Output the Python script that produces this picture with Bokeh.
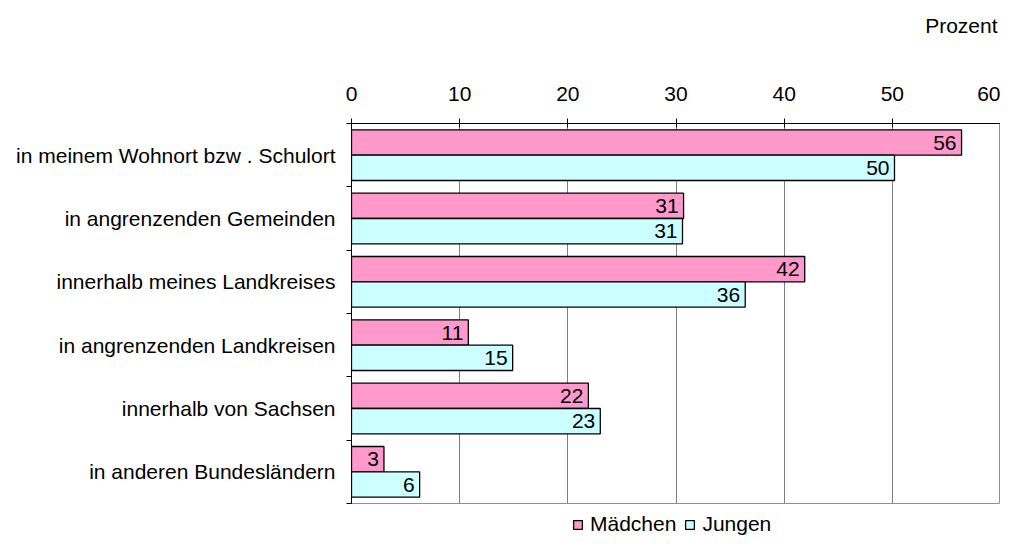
from bokeh.plotting import figure
from bokeh.layouts import column
from bokeh.models import (ColumnDataSource, FixedTicker, Range1d, Legend, LegendItem,
                          LabelSet)
from bokeh.core.properties import value
from bokeh.transform import dodge
from bokeh.embed import file_html
from bokeh.resources import INLINE

categories = [
    "in meinem Wohnort bzw . Schulort",
    "in angrenzenden Gemeinden",
    "innerhalb meines Landkreises",
    "in angrenzenden Landkreisen",
    "innerhalb von Sachsen",
    "in anderen Bundesländern",
]
maedchen = [56.4, 30.7, 41.9, 10.8, 21.9, 3.0]
jungen = [50.2, 30.6, 36.4, 14.9, 23.0, 6.3]
series_names = ["Mädchen", "Jungen"]
x_ticks = [0, 10, 20, 30, 40, 50, 60]
unit_label = "Prozent"

n = len(categories)
# category i (0 = top) centred at n - i - 0.5
centres = [n - i - 0.5 for i in range(n)]

FONT = "Liberation Sans"
FS = "21px"
pink = "#FF99CC"
cyan = "#CCFFFF"

W = 1000
TOP_H = 50          # strip holding the unit label
LEG_H = 28          # strip holding the legend
MAIN_H = 537 - TOP_H - LEG_H
FL, FR, FT, FB = 351, 1000, 123, 503   # frame edges in page pixels


def strip(h):
    f = figure(width=W, height=h, output_backend="svg", toolbar_location=None,
               x_range=Range1d(0, 1), y_range=Range1d(0, 1),
               x_axis_location=None, y_axis_location=None,
               min_border_left=FL, min_border_right=W - FR,
               min_border_top=0, min_border_bottom=0, title=None)
    f.outline_line_color = None
    f.grid.visible = False
    f.border_fill_color = "white"
    f.background_fill_color = "white"
    return f


# ---- top strip: unit label (x relative to the aligned frame's left edge) ----
top = strip(TOP_H)
top.add_layout(LabelSet(x="x", y="y", text="t", x_units="screen", y_units="screen",
                        source=ColumnDataSource(dict(x=[997 - FL], y=[TOP_H - 25],
                                                     t=[unit_label])),
                        text_align="right", text_baseline="middle",
                        text_font=value(FONT), text_font_size=value(FS), text_color="black"))

# ---- main chart ----
src = ColumnDataSource(dict(
    y=centres,
    m=maedchen,
    j=jungen,
    ml=[str(int(round(v))) for v in maedchen],
    jl=[str(int(round(v))) for v in jungen],
))

p = figure(width=W, height=MAIN_H, output_backend="svg", toolbar_location=None,
           x_range=Range1d(0, 60), y_range=Range1d(0, n), title=None,
           x_axis_location="above", min_border_left=FL, min_border_right=W - FR,
           min_border_top=FT - TOP_H, min_border_bottom=TOP_H + MAIN_H - FB)
p.background_fill_color = "white"
p.border_fill_color = "white"
p.outline_line_color = "#909090"

p.xgrid.ticker = FixedTicker(ticks=x_ticks)
p.xgrid.grid_line_color = "#808080"
p.xgrid.grid_line_width = 1
p.ygrid.grid_line_color = None

xa = p.xaxis[0]
xa.ticker = FixedTicker(ticks=x_ticks)
xa.axis_line_color = "black"
xa.major_tick_line_color = "black"
xa.major_tick_out = 5
xa.major_tick_in = 4
xa.minor_tick_line_color = None
xa.major_label_standoff = 18
xa.major_label_text_font = FONT
xa.major_label_text_font_size = FS
xa.major_label_text_color = "black"

ya = p.yaxis[0]
ya.ticker = FixedTicker(ticks=centres, minor_ticks=list(range(n + 1)))
ya.major_label_overrides = {c: categories[i] for i, c in enumerate(centres)}
ya.major_tick_line_color = None
ya.major_tick_out = 5
ya.major_tick_in = 0
ya.minor_tick_line_color = "black"
ya.minor_tick_out = 5
ya.minor_tick_in = 0
ya.axis_line_color = "black"
ya.major_label_standoff = 11
ya.major_label_text_font = FONT
ya.major_label_text_font_size = FS
ya.major_label_text_color = "black"

p.hbar(y=dodge("y", 0.2, range=p.y_range), right="m", left=0, height=0.4, source=src,
       fill_color=pink, line_color="black", line_width=1.3)
p.hbar(y=dodge("y", -0.2, range=p.y_range), right="j", left=0, height=0.4, source=src,
       fill_color=cyan, line_color="black", line_width=1.3)

for col, lab, off in (("m", "ml", 0.2), ("j", "jl", -0.2)):
    p.add_layout(LabelSet(x=col, y=dodge("y", off, range=p.y_range), text=lab, source=src,
                          x_offset=-5, text_align="right", text_baseline="middle",
                          text_font=value(FONT), text_font_size=value(FS),
                          text_color="black"))

# ---- bottom strip: legend (proxy renderers lie outside the strip's range) ----
leg = strip(LEG_H)
proxy = ColumnDataSource(dict(y=[-10], r=[0]))
l1 = leg.hbar(y="y", right="r", left=0, height=0.4, source=proxy,
              fill_color=pink, line_color="black", line_width=1.3)
l2 = leg.hbar(y="y", right="r", left=0, height=0.4, source=proxy,
              fill_color=cyan, line_color="black", line_width=1.3)
legend = Legend(items=[LegendItem(label=series_names[0], renderers=[l1]),
                       LegendItem(label=series_names[1], renderers=[l2])],
                orientation="horizontal", location=(572 - FL, 1),
                label_text_font=FONT, label_text_font_size=FS,
                label_text_color="black",
                glyph_width=11, glyph_height=11, spacing=8, label_standoff=7,
                border_line_color=None, background_fill_alpha=0,
                padding=0, margin=0)
leg.add_layout(legend, "center")

layout = column(top, p, leg, spacing=0)
open("out.html", "w").write(file_html(layout, INLINE))
